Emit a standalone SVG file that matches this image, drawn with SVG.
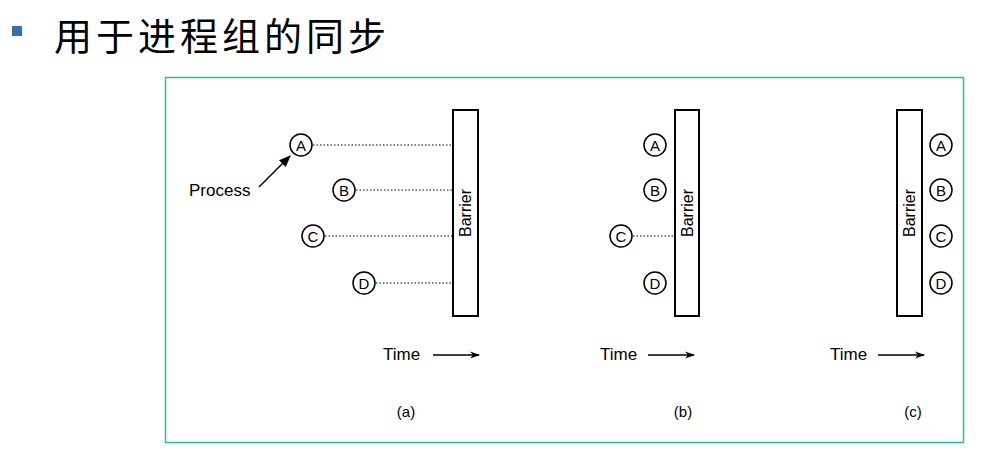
<svg xmlns="http://www.w3.org/2000/svg" width="981" height="459" viewBox="0 0 981 459">
<defs>
<style>
.t{font-family:"Liberation Sans",Arial,sans-serif;fill:#000}
.bar{fill:#fff;stroke:#000;stroke-width:2}
.p{fill:#fff;stroke:#000;stroke-width:1.5}
.pl{font-family:"Liberation Sans",Arial,sans-serif;font-size:15px;text-anchor:middle;dominant-baseline:central}
.dot{stroke:#000;stroke-width:1;stroke-dasharray:1.5 2;fill:none}
.arr{stroke:#000;stroke-width:1.5;fill:none}
</style>
<marker id="ah" viewBox="0 0 10 10" refX="9" refY="5" markerWidth="10" markerHeight="10" markerUnits="userSpaceOnUse" orient="auto">
<path d="M0,1.5 L10,5 L0,8.5 L3,5 Z" fill="#000"/>
</marker>
<marker id="ah2" viewBox="0 0 10 10" refX="9" refY="5" markerWidth="12" markerHeight="12" markerUnits="userSpaceOnUse" orient="auto">
<path d="M0,1 L10,5 L0,9 Z" fill="#000"/>
</marker>
</defs>
<rect width="981" height="459" fill="#fff"/>
<g id="title">
<rect x="12" y="26" width="10" height="10" fill="#3a6ea5"/>
<text x="54" y="50" font-family="'Noto Sans CJK SC',sans-serif" font-size="38" letter-spacing="4" fill="#000">用于进程组的同步</text>
</g>
<rect x="165.5" y="77.5" width="798" height="365" fill="none" stroke="#22c497" stroke-width="1.5"/>
<g id="connectors">
<line class="dot" x1="313" y1="145" x2="453" y2="145"/>
<line class="dot" x1="356" y1="190" x2="453" y2="190"/>
<line class="dot" x1="325" y1="236" x2="453" y2="236"/>
<line class="dot" x1="376" y1="283" x2="453" y2="283"/>
<line class="dot" x1="633" y1="236" x2="675" y2="236"/>
<line class="arr" x1="259" y1="187" x2="290" y2="156" stroke-width="2" marker-end="url(#ah2)"/>
<line class="arr" x1="433" y1="355" x2="479" y2="355" marker-end="url(#ah)"/>
<line class="arr" x1="648" y1="355" x2="694" y2="355" marker-end="url(#ah)"/>
<line class="arr" x1="878" y1="355" x2="924" y2="355" marker-end="url(#ah)"/>
</g>
<g id="panel-a">
<g id="barrier-a"><rect class="bar" x="453" y="110" width="25" height="206"/><text class="t" font-size="16" transform="translate(471,213) rotate(-90)" text-anchor="middle">Barrier</text></g>
<g id="a-A"><circle class="p" cx="301" cy="145" r="11"/><text class="pl" x="301" y="145">A</text></g>
<g id="a-B"><circle class="p" cx="344" cy="190" r="11"/><text class="pl" x="344" y="190">B</text></g>
<g id="a-C"><circle class="p" cx="313" cy="236" r="11"/><text class="pl" x="313" y="236">C</text></g>
<g id="a-D"><circle class="p" cx="364" cy="283" r="11"/><text class="pl" x="364" y="283">D</text></g>
<text class="t" x="189" y="196" font-size="17">Process</text>
<text class="t" x="383" y="360" font-size="17">Time</text>
<text class="t" x="406" y="417" font-size="15" text-anchor="middle">(a)</text>
</g>
<g id="panel-b">
<g id="barrier-b"><rect class="bar" x="675" y="110" width="24" height="206"/><text class="t" font-size="16" transform="translate(693,213) rotate(-90)" text-anchor="middle">Barrier</text></g>
<g id="b-A"><circle class="p" cx="655" cy="145" r="11"/><text class="pl" x="655" y="145">A</text></g>
<g id="b-B"><circle class="p" cx="655" cy="190" r="11"/><text class="pl" x="655" y="190">B</text></g>
<g id="b-C"><circle class="p" cx="621" cy="236" r="11"/><text class="pl" x="621" y="236">C</text></g>
<g id="b-D"><circle class="p" cx="655" cy="283" r="11"/><text class="pl" x="655" y="283">D</text></g>
<text class="t" x="600" y="360" font-size="17">Time</text>
<text class="t" x="683" y="417" font-size="15" text-anchor="middle">(b)</text>
</g>
<g id="panel-c">
<g id="barrier-c"><rect class="bar" x="897" y="110" width="25" height="206"/><text class="t" font-size="16" transform="translate(915,213) rotate(-90)" text-anchor="middle">Barrier</text></g>
<g id="c-A"><circle class="p" cx="941" cy="145" r="11"/><text class="pl" x="941" y="145">A</text></g>
<g id="c-B"><circle class="p" cx="941" cy="190" r="11"/><text class="pl" x="941" y="190">B</text></g>
<g id="c-C"><circle class="p" cx="941" cy="236" r="11"/><text class="pl" x="941" y="236">C</text></g>
<g id="c-D"><circle class="p" cx="941" cy="283" r="11"/><text class="pl" x="941" y="283">D</text></g>
<text class="t" x="830" y="360" font-size="17">Time</text>
<text class="t" x="913" y="417" font-size="15" text-anchor="middle">(c)</text>
</g>
</svg>
